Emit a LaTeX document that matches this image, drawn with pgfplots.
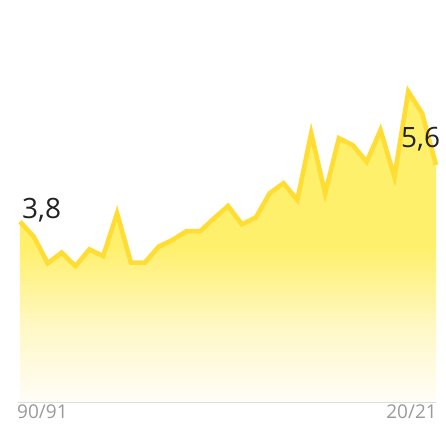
\documentclass[border=0pt]{standalone}
\usepackage{fontspec}
\setmainfont{Open Sans}
\usepackage{pgfplots}
\pgfplotsset{compat=1.18}
\definecolor{lineY}{HTML}{FFDD33}
\definecolor{fillY}{HTML}{FFF06C}
\definecolor{fillM}{HTML}{FFF8C6}
\definecolor{fillW}{HTML}{FFFDF8}
\definecolor{txt}{HTML}{222222}
\definecolor{tick}{HTML}{9A9A9A}
\definecolor{base}{HTML}{DDDDDD}
\pgfdeclareverticalshading{yfade}{100bp}{color(0bp)=(fillW); color(25bp)=(fillW); color(37bp)=(fillM); color(50bp)=(fillY); color(100bp)=(fillY)}
\pgfplotstableread{
x y
0 3.80
1 3.32
2 2.48
3 2.82
4 2.39
5 2.92
6 2.71
7 4.07
8 2.50
9 2.50
10 3.01
11 3.22
12 3.50
13 3.50
14 3.91
15 4.30
16 3.72
17 3.93
18 4.70
19 5.02
20 4.49
21 6.61
22 4.70
23 6.45
24 6.23
25 5.70
26 6.71
27 5.23
28 7.93
29 7.24
30 5.60
}\datatable
\begin{document}
\begin{tikzpicture}
\begin{axis}[
  name=main,
  scale only axis, width=446pt, height=429pt,
  xmin=-1.442, xmax=30.721, ymin=-2.781, ymax=10.838,
  hide axis, clip=false,
]
\addplot[draw=none, shading=yfade, shading angle=0] coordinates {(0,-1.94) (0,3.80) (1,3.32) (2,2.48) (3,2.82) (4,2.39) (5,2.92) (6,2.71) (7,4.07) (8,2.50) (9,2.50) (10,3.01) (11,3.22) (12,3.50) (13,3.50) (14,3.91) (15,4.30) (16,3.72) (17,3.93) (18,4.70) (19,5.02) (20,4.49) (21,6.61) (22,4.70) (23,6.45) (24,6.23) (25,5.70) (26,6.71) (27,5.23) (28,7.93) (29,7.24) (30,5.60) (30,-1.94)} -- cycle;
\addplot[draw=base, line width=1.2pt] coordinates {(-0.18,-1.94) (30.03,-1.94)};
\addplot[draw=lineY, line width=4.6pt, line join=miter, no markers] table[x=x,y=y] {\datatable};
\node[anchor=base west, inner sep=0pt, text=txt, font=\fontsize{28}{28}\selectfont] at (axis cs:0.144,3.917) {3,8};
\node[anchor=base west, inner sep=0pt, text=txt, font=\fontsize{28}{28}\selectfont] at (axis cs:27.475,6.14) {5,6};
\node[anchor=base west, inner sep=0pt, text=tick, font=\fontsize{19}{19}\selectfont] at (axis cs:-0.216,-2.46) {90/91};
\node[anchor=base east, inner sep=0pt, text=tick, font=\fontsize{19}{19}\selectfont] at (axis cs:30.07,-2.46) {20/21};
\end{axis}
\pgfresetboundingbox
\path[use as bounding box] (main.south west) rectangle (main.north east);
\end{tikzpicture}
\end{document}
